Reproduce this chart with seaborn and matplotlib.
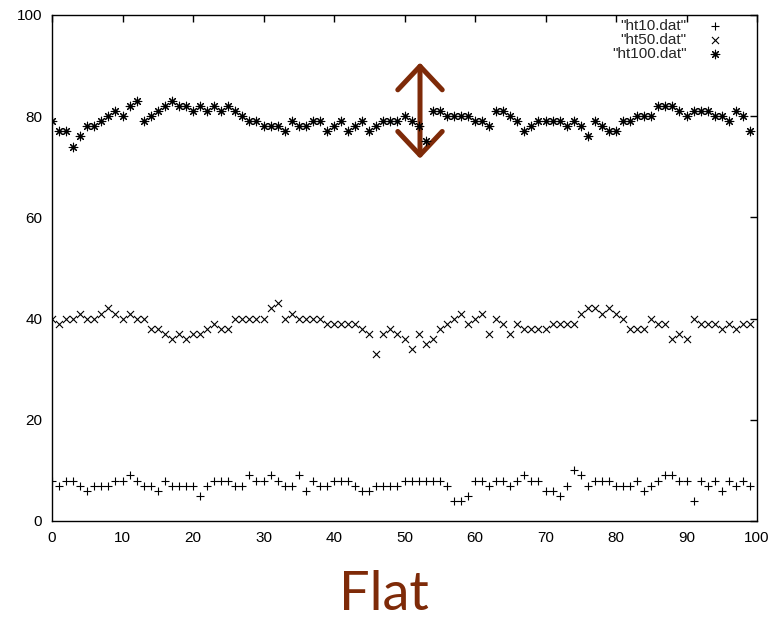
import matplotlib
matplotlib.use("Agg")
import matplotlib.pyplot as plt
import seaborn as sns
import numpy as np
import pandas as pd

x_vals = list(range(100))

ht10 = [8, 7, 8, 8, 7, 6, 7, 7, 7, 8, 8, 9, 8, 7, 7, 6, 8, 7, 7, 7,
        7, 5, 7, 8, 8, 8, 7, 7, 9, 8, 8, 9, 8, 7, 7, 9, 6, 8, 7, 7,
        8, 8, 8, 7, 6, 6, 7, 7, 7, 7, 8, 8, 8, 8, 8, 8, 7, 4, 4, 5,
        8, 8, 7, 8, 8, 7, 8, 9, 8, 8, 6, 6, 5, 7, 10, 9, 7, 8, 8, 8,
        7, 7, 7, 8, 6, 7, 8, 9, 9, 8, 8, 4, 8, 7, 8, 6, 8, 7, 8, 7]

ht50 = [40, 39, 40, 40, 41, 40, 40, 41, 42, 41, 40, 41, 40, 40, 38, 38, 37, 36, 37, 36,
        37, 37, 38, 39, 38, 38, 40, 40, 40, 40, 40, 42, 43, 40, 41, 40, 40, 40, 40, 39,
        39, 39, 39, 39, 38, 37, 33, 37, 38, 37, 36, 34, 37, 35, 36, 38, 39, 40, 41, 39,
        40, 41, 37, 40, 39, 37, 39, 38, 38, 38, 38, 39, 39, 39, 39, 41, 42, 42, 41, 42,
        41, 40, 38, 38, 38, 40, 39, 39, 36, 37, 36, 40, 39, 39, 39, 38, 39, 38, 39, 39]

ht100 = [79, 77, 77, 74, 76, 78, 78, 79, 80, 81, 80, 82, 83, 79, 80, 81, 82, 83, 82, 82,
         81, 82, 81, 82, 81, 82, 81, 80, 79, 79, 78, 78, 78, 77, 79, 78, 78, 79, 79, 77,
         78, 79, 77, 78, 79, 77, 78, 79, 79, 79, 80, 79, 78, 75, 81, 81, 80, 80, 80, 80,
         79, 79, 78, 81, 81, 80, 79, 77, 78, 79, 79, 79, 79, 78, 79, 78, 76, 79, 78, 77,
         77, 79, 79, 80, 80, 80, 82, 82, 82, 81, 80, 81, 81, 81, 80, 80, 79, 81, 80, 77]

series_names = ['"ht10.dat"', '"ht50.dat"', '"ht100.dat"']
x_ticks = list(range(0, 101, 10))
y_ticks = list(range(0, 101, 20))
title_text = "Flat"

sns.set_theme(style="white")
plt.rcParams['font.family'] = ['Liberation Sans', 'DejaVu Sans']

fig = plt.figure(figsize=(7.76, 6.22), dpi=100)
ax = fig.add_axes([52/776, 1 - 521/622, (757 - 52)/776, (521 - 15)/622])

markers = ['+', 'x', (8, 2, 0)]
sizes = [38, 26, 38]
for name, vals, mk, sz in zip(series_names, [ht10, ht50, ht100], markers, sizes):
    df = pd.DataFrame({"x": x_vals, "y": vals})
    sns.scatterplot(data=df, x="x", y="y", marker=mk, color="black", s=sz,
                    linewidth=0.8, ax=ax, label=name, zorder=3)

ax.set_xlim(0, 100)
ax.set_ylim(0, 100)
ax.set_xticks(x_ticks)
ax.set_yticks(y_ticks)
ax.set_xlabel("")
ax.set_ylabel("")
ax.tick_params(direction="in", length=5, width=1, top=True, right=True,
               labelsize=11, colors="black", pad=7)
for s in ax.spines.values():
    s.set_color("black")
    s.set_linewidth(1.0)
ax.grid(False)

leg = ax.legend(loc="upper right", frameon=False, markerfirst=False,
                fontsize=11, handletextpad=1.3, labelspacing=0.0,
                borderaxespad=0, borderpad=0.05, handlelength=1.1,
                bbox_to_anchor=((724 - 52) / 705, 0.993))
for t in leg.get_texts():
    t.set_ha("right")

brown = "#7e2a08"
ax.annotate("", xy=(52.2, 90.6), xytext=(52.2, 71.6),
            arrowprops=dict(arrowstyle="<->,head_length=0.85,head_width=0.8",
                            lw=3.6, color=brown, shrinkA=0, shrinkB=0,
                            mutation_scale=20),
            zorder=2)

fig.text(384/776, 12/622, title_text, ha="center", va="baseline",
         fontsize=39, color=brown, family=["Lato", "DejaVu Sans"],
         fontweight="normal")

fig.savefig("out.png", dpi=100)
